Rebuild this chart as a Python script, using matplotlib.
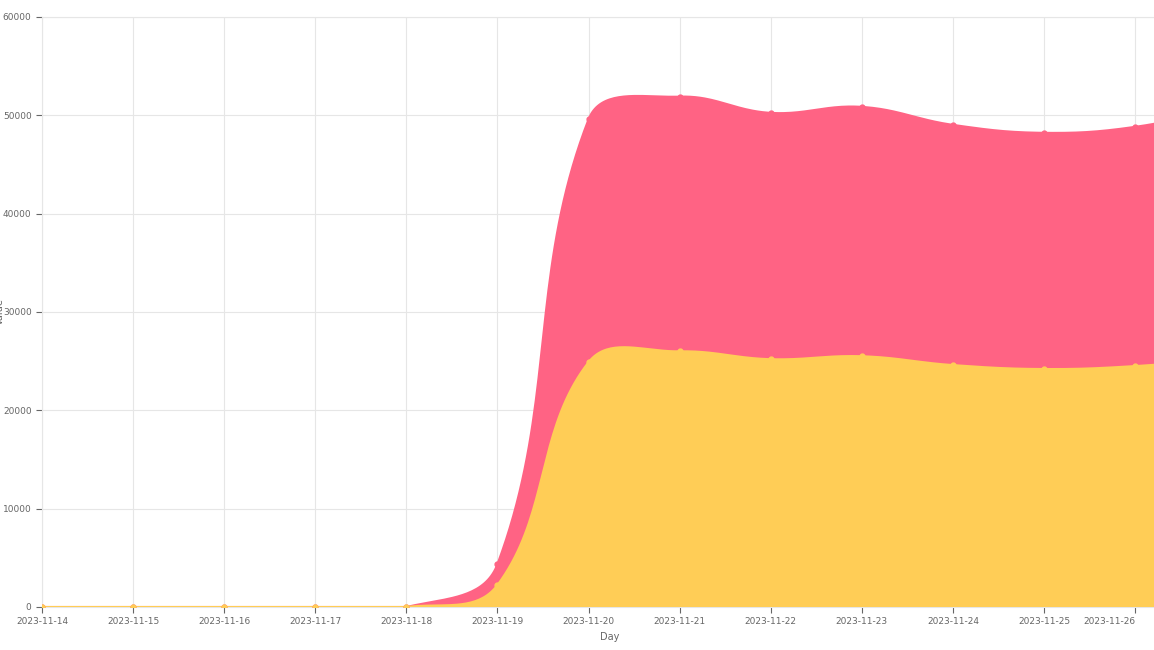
import numpy as np
import matplotlib.pyplot as plt

days = ['2023-11-14', '2023-11-15', '2023-11-16', '2023-11-17', '2023-11-18', '2023-11-19',
        '2023-11-20', '2023-11-21', '2023-11-22', '2023-11-23', '2023-11-24', '2023-11-25',
        '2023-11-26', '2023-11-27']
yellow_vals = [0, 0, 0, 0, 0, 2240, 24900, 26000, 25200, 25500, 24600, 24200, 24500, 25300]
red_vals = [0, 0, 0, 0, 0, 2130, 24700, 25900, 25050, 25360, 24430, 24020, 24330, 25500]

RED = '#FF6384'
YELLOW = '#FFCD56'
GRID = '#e6e6e6'

# pixel scale used for chart.js-like bezier smoothing (tension 0.4)
PX_X = 91.0
PX_Y = 98.3 / 10000


def spline(xs, ys, tension=0.4, n=40):
    xs = np.asarray(xs, float)
    ys = np.asarray(ys, float)
    px, py = xs * PX_X, ys * PX_Y
    m = len(px)
    cps = []
    for i in range(m):
        p = max(i - 1, 0)
        q = min(i + 1, m - 1)
        d01 = np.hypot(px[i] - px[p], py[i] - py[p])
        d12 = np.hypot(px[q] - px[i], py[q] - py[i])
        tot = d01 + d12
        s01 = d01 / tot if tot else 0
        s12 = d12 / tot if tot else 0
        fa, fb = tension * s01, tension * s12
        dx, dy = px[q] - px[p], py[q] - py[p]
        cps.append(((px[i] - fa * dx, py[i] - fa * dy), (px[i] + fb * dx, py[i] + fb * dy)))
    outx, outy = [], []
    t = np.linspace(0, 1, n)
    for i in range(m - 1):
        p0 = np.array([px[i], py[i]])
        p1 = np.array(cps[i][1])
        p2 = np.array(cps[i + 1][0])
        p3 = np.array([px[i + 1], py[i + 1]])
        b = ((1 - t) ** 3)[:, None] * p0 + (3 * (1 - t) ** 2 * t)[:, None] * p1 \
            + (3 * (1 - t) * t ** 2)[:, None] * p2 + (t ** 3)[:, None] * p3
        outx.extend(b[:, 0])
        outy.extend(b[:, 1])
    outx = np.array(outx) / PX_X
    outy = np.clip(np.array(outy) / PX_Y, 0, None)
    return outx, outy


x = np.arange(len(days))
ybot = np.array(yellow_vals, float)
ytop = ybot + np.array(red_vals, float)

bx, by = spline(x, ybot)
tx, ty = spline(x, ytop)

fig = plt.figure(figsize=(11.54, 6.5), dpi=100)
ax = fig.add_axes([42 / 1154, 43 / 650, 1 - 42 / 1154 + 0.02, 590 / 650])

ax.fill(np.r_[tx, bx[::-1]], np.r_[ty, by[::-1]], color=RED, lw=0, zorder=2)
ax.fill(np.r_[bx, bx[::-1]], np.r_[by, np.zeros_like(by)], color=YELLOW, lw=0, zorder=3)
ax.plot(tx, ty, color=RED, lw=1.5, zorder=4)
ax.plot(bx, by, color=YELLOW, lw=1.5, zorder=5)
ax.plot(x, ytop, 'o', color=RED, ms=3.5, zorder=6)
ax.plot(x, ybot, 'o', color=YELLOW, ms=3.5, zorder=7)

ax.set_xlim(0, 12.46)
ax.set_ylim(0, 60000)
ax.set_xticks(x[:13])
ax.set_xticklabels(days[:13])
ax.get_xticklabels()[-1].set_horizontalalignment('right')
ax.get_xticklabels()[-1].set_x(12.22)
ax.set_yticks(np.arange(0, 60001, 10000))
ax.tick_params(colors='#666666', labelsize=6.5, length=4)
ax.grid(True, color=GRID, lw=0.8, zorder=0)
for s in ax.spines.values():
    s.set_color(GRID)
ax.set_xlabel('Day', fontsize=7, color='#666666')
ax.set_ylabel('Value', fontsize=7, color='#666666', labelpad=2)
ax.yaxis.set_label_coords(-0.033, 0.5)

fig.savefig('out.png', dpi=100)
